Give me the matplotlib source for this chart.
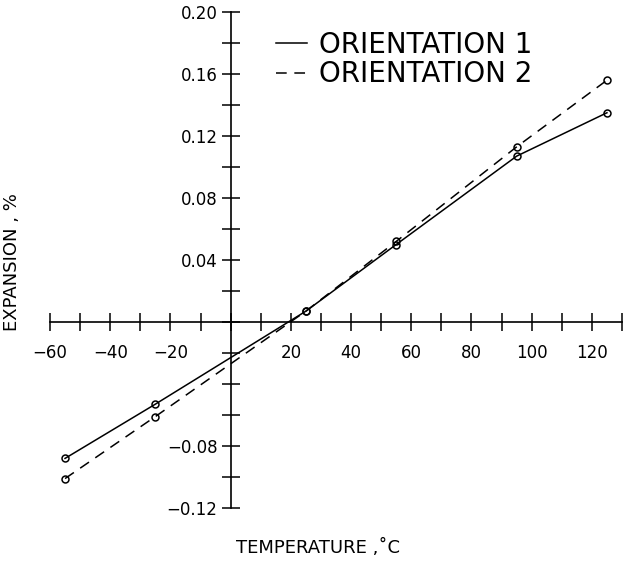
import numpy as np
import matplotlib.pyplot as plt

# temperature (deg C) and expansion (%)
temp = [-55, -25, 25, 55, 95, 125]
orient1 = [-0.088, -0.053, 0.007, 0.050, 0.107, 0.135]
orient2 = [-0.101, -0.061, 0.007, 0.052, 0.113, 0.156]

xticks = [-60, -40, -20, 20, 40, 60, 80, 100, 120]
yticks = [-0.12, -0.08, 0.04, 0.08, 0.12, 0.16, 0.20]

fig = plt.figure(figsize=(6.23, 5.62), dpi=100)
ax = fig.add_axes([50 / 623, 1 - 508 / 562, 572 / 623, 496 / 562])

ax.plot(temp, orient1, '-', color='black', lw=1.1, marker='o', ms=5,
        mfc='none', mew=1.1, label='ORIENTATION 1')
ax.plot(temp, orient2, '--', color='black', lw=1.1, marker='o', ms=5,
        mfc='none', mew=1.1, dashes=(7, 5), label='ORIENTATION 2')

ax.set_xlim(-60, 130)
ax.set_ylim(-0.12, 0.20)

# axes cross at the origin
ax.spines['left'].set_position(('data', 0))
ax.spines['bottom'].set_position(('data', 0))
ax.spines['right'].set_visible(False)
ax.spines['top'].set_visible(False)
for s in ('left', 'bottom'):
    ax.spines[s].set_linewidth(1.2)

def lab(s):
    return s.replace('-', '\u2212')

ax.set_xticks(np.arange(-60, 131, 10), minor=True)
ax.set_xticks(xticks)
ax.set_xticklabels([lab(str(t)) for t in xticks])
ax.set_yticks(np.arange(-0.12, 0.201, 0.02), minor=True)
ax.set_yticks(yticks)
ax.set_yticklabels([lab('%.2f' % t) for t in yticks])
ax.tick_params(which='both', direction='inout', length=13, width=1.1,
               labelsize=12)
ax.tick_params(axis='x', pad=9)
ax.tick_params(axis='y', pad=3)

fig.text(12 / 623, 1 - 262 / 562, 'EXPANSION , %', rotation=90,
         ha='center', va='center', fontsize=13)
fig.text(318 / 623, 1 - 548 / 562, 'TEMPERATURE ,\u02daC',
         ha='center', va='center', fontsize=13)

ax.legend(loc='upper left', bbox_to_anchor=(0.352, 1.012), frameon=False,
          fontsize=20, handlelength=1.1, handletextpad=0.45,
          labelspacing=0.05, markerscale=0)

fig.savefig('out.png', dpi=100)
